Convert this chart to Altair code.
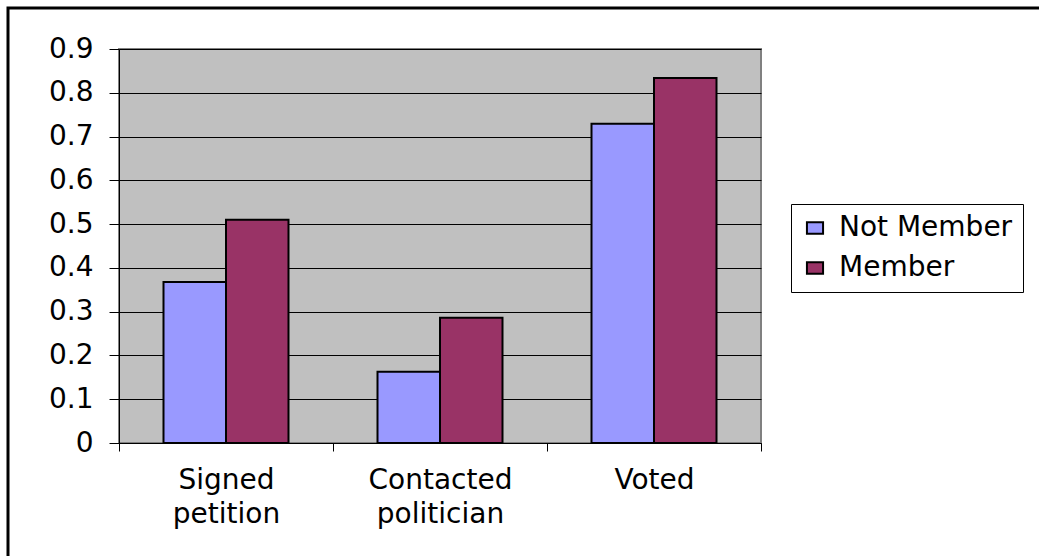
import altair as alt
import pandas as pd

# Share of respondents taking each action, by membership status
categories = ["Signed petition", "Contacted politician", "Voted"]
groups = ["Not Member", "Member"]
not_member = [0.368, 0.163, 0.729]
member = [0.510, 0.286, 0.834]
y_ticks = [0, 0.1, 0.2, 0.3, 0.4, 0.5, 0.6, 0.7, 0.8, 0.9]
colors = ["#9999FF", "#993366"]

rows = []
for cat, a, b in zip(categories, not_member, member):
    rows.append({"action": cat, "group": groups[0], "share": a})
    rows.append({"action": cat, "group": groups[1], "share": b})
df = pd.DataFrame(rows)

FONT = "DejaVu Sans"

bars = alt.Chart(df).mark_bar(
    stroke="black", strokeWidth=2, strokeJoin="miter"
).encode(
    x=alt.X(
        "action:N",
        sort=categories,
        scale=alt.Scale(paddingInner=0, paddingOuter=0),
        axis=alt.Axis(
            title=None,
            labelAngle=0,
            labelExpr="split(datum.label, ' ')",
            labelLineHeight=34,
            labelFontSize=28,
            labelFont=FONT,
            labelColor="black",
            labelPadding=15,
            tickBand="extent",
            tickSize=8,
            tickColor="black",
            domainColor="black",
            grid=False,
        ),
    ),
    xOffset=alt.XOffset(
        "group:N",
        sort=groups,
        scale=alt.Scale(paddingInner=0, paddingOuter=0.712),
    ),
    y=alt.Y(
        "share:Q",
        scale=alt.Scale(domain=[0, 0.9], nice=False),
        axis=alt.Axis(
            title=None,
            values=y_ticks,
            labelExpr="datum.value == 0 ? '0' : format(datum.value, '.1f')",
            labelFontSize=28,
            labelFont=FONT,
            labelColor="black",
            labelPadding=16,
            tickSize=10,
            tickColor="black",
            domainColor="black",
            gridColor="black",
            gridWidth=1,
        ),
    ),
    color=alt.Color(
        "group:N",
        sort=groups,
        scale=alt.Scale(domain=groups, range=colors),
        legend=alt.Legend(
            title=None,
            orient="none",
            legendX=672,
            legendY=155,
            symbolType="M-1,-0.7L1,-0.7L1,0.7L-1,0.7Z",
            symbolSize=260,
            symbolStrokeColor="black",
            symbolStrokeWidth=2,
            labelFont=FONT,
            labelFontSize=28,
            labelColor="black",
            labelLimit=0,
            labelOffset=10,
            rowPadding=12,
            padding=10,
            strokeColor="black",
            fillColor="white",
        ),
    ),
)

# Outer frame around the whole figure
frame = alt.Chart(pd.DataFrame({"k": [0]})).mark_rect(
    fill=None, stroke="black", strokeWidth=3, clip=False
).encode(
    x=alt.value(-111), x2=alt.value(930),
    y=alt.value(-41), y2=alt.value(560),
)

chart = alt.layer(frame, bars).properties(
    width=642,
    height=394,
    padding={"left": 119, "top": 49, "right": 278, "bottom": 113},
    autosize=alt.AutoSizeParams(type="none"),
    background="white",
).configure_view(
    fill="#C0C0C0", stroke="#808080", strokeWidth=2
)

chart.save("out.html", embed_options={"renderer": "svg", "actions": False})
